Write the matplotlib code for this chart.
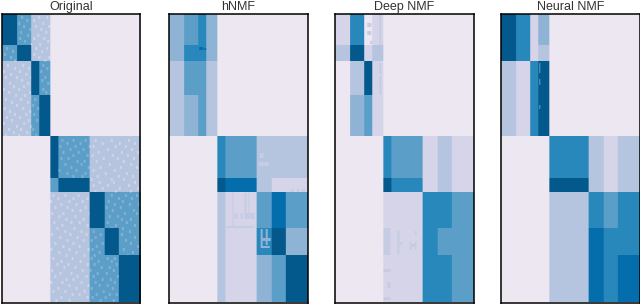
import numpy as np
import matplotlib
matplotlib.use('Agg')
import matplotlib.pyplot as plt

plt.rcParams['font.family'] = ['Liberation Sans', 'DejaVu Sans']

# block levels, on the PuBu scale
B, L, P, M, S, T, U, D = 0.12, 0.23, 0.33, 0.43, 0.55, 0.66, 0.76, 0.875
FAINT = 0.28

row_edges = [0, 32, 48, 82, 123, 165, 179, 215, 242, 289]
col_edges = [0, 15, 29, 37, 48, 56, 87, 102, 116, 138]

titles = ['Original', 'hNMF', 'Deep NMF', 'Neural NMF']

original = [
    [D, S, P, P, B, B, B, B, B],
    [S, D, P, P, B, B, B, B, B],
    [P, P, D, S, B, B, B, B, B],
    [P, P, S, D, B, B, B, B, B],
    [B, B, B, B, D, S, P, P, P],
    [B, B, B, B, S, D, P, P, P],
    [B, B, B, B, P, P, D, S, S],
    [B, B, B, B, P, P, S, D, S],
    [B, B, B, B, P, P, S, S, D],
]
hnmf = [
    [M, S, T, M, B, B, B, B, B],
    [M, T, T, M, B, B, B, B, B],
    [P, S, S, P, B, B, B, B, B],
    [P, M, S, P, B, B, B, B, B],
    [B, B, B, B, T, S, P, P, P],
    [B, B, B, B, D, U, P, L, L],
    [B, B, B, B, P, L, S, U, S],
    [B, B, B, B, P, L, T, D, M],
    [B, B, B, B, P, L, M, S, D],
]
deep_nmf = [
    [L, T, B, L, B, B, B, B, B],
    [P, D, L, P, B, B, B, B, B],
    [B, P, D, L, B, B, B, B, B],
    [B, M, S, L, B, B, B, B, B],
    [B, B, B, B, T, S, L, P, L],
    [B, B, B, B, D, T, L, P, L],
    [B, B, B, B, L, L, T, T, S],
    [B, B, B, B, L, L, T, S, S],
    [B, B, B, B, L, L, T, T, S],
]
neural_nmf = [
    [D, T, L, M, B, B, B, B, B],
    [D, T, L, P, B, B, B, B, B],
    [P, L, T, D, B, B, B, B, B],
    [P, L, T, D, B, B, B, B, B],
    [B, B, B, B, T, T, P, L, P],
    [B, B, B, B, D, D, P, L, P],
    [B, B, B, B, P, P, T, S, T],
    [B, B, B, B, P, P, U, T, T],
    [B, B, B, B, P, P, U, T, U],
]

# light cells in the original matrix: row, then columns
orig_specks = [
    (3, [19, 36, 44]), (6, [24, 31]), (9, [16, 40]), (12, [21, 33, 46]),
    (15, [27, 38]), (18, [18, 43]), (21, [25, 35]), (24, [17, 31, 41]),
    (27, [22, 45]), (30, [28, 37]), (34, [4, 33, 44]), (37, [10, 39]),
    (40, [2, 31]), (43, [8, 36, 46]), (46, [12, 42]), (51, [5, 20, 40]),
    (54, [12, 26, 44]), (57, [1, 17, 38]), (60, [8, 23]), (63, [3, 14, 28, 42]),
    (66, [19, 39]), (69, [7, 25, 45]), (72, [11, 21]), (75, [1, 16, 40]),
    (78, [6, 27, 43]), (81, [13, 22]), (85, [3, 18, 32]), (88, [9, 25]),
    (91, [14, 30]), (94, [2, 20, 35]), (97, [7, 27]), (100, [12, 23, 31]),
    (103, [4, 17]), (106, [9, 26, 34]), (109, [1, 21]), (112, [14, 28]),
    (115, [6, 18, 30]), (118, [11, 24]), (121, [3, 16, 33]),
    (126, [59, 70, 82, 92, 108, 125]), (129, [64, 77, 99, 116, 131]),
    (132, [57, 72, 86, 90, 112, 122]), (135, [67, 80, 104, 128]),
    (138, [60, 75, 95, 118, 134]), (141, [70, 84, 89, 109, 124]),
    (144, [58, 65, 100, 114, 130]), (147, [74, 81, 93, 120]),
    (150, [62, 78, 106, 127]), (153, [68, 85, 97, 117, 133]),
    (156, [56, 73, 90, 111]), (159, [64, 82, 102, 123]),
    (162, [70, 79, 94, 115, 129]), (165, [88, 108, 120]),
    (168, [96, 110, 131]), (171, [90, 104, 125]), (174, [99, 116, 134]),
    (177, [92, 112, 127]), (181, [50, 62, 75, 108, 122, 133]),
    (184, [55, 70, 84, 115, 128]), (187, [48, 66, 79, 105, 119]),
    (190, [58, 73, 111, 126, 135]), (193, [52, 64, 82, 103, 117]),
    (196, [69, 77, 109, 130]), (199, [49, 60, 86, 121, 133]),
    (202, [56, 72, 106, 114]), (205, [63, 80, 118, 127]),
    (208, [51, 68, 76, 104, 123]), (211, [59, 84, 112, 131]),
    (214, [54, 71, 108, 119]), (217, [62, 78, 90, 126]),
    (220, [49, 67, 83, 97, 118]), (223, [57, 74, 92, 131]),
    (226, [64, 80, 88, 122]), (229, [52, 70, 99, 127]),
    (232, [60, 76, 93, 134]), (235, [48, 66, 85, 89, 120]),
    (238, [56, 73, 96, 129]), (241, [63, 81, 91, 124]),
    (244, [50, 69, 88, 104, 111]), (247, [58, 77, 95, 108]),
    (250, [54, 65, 84, 91, 113]), (253, [61, 72, 98, 106]),
    (256, [49, 79, 87, 110]), (259, [57, 68, 94, 103]),
    (262, [52, 74, 83, 90, 114]), (265, [63, 70, 99, 107]),
    (268, [48, 59, 78, 92, 111]), (271, [66, 85, 96, 104]),
    (274, [55, 73, 88, 109]), (277, [50, 62, 81, 100]),
    (280, [69, 76, 93, 106, 113]), (283, [58, 84, 89, 102]),
    (286, [53, 66, 97, 110]),
]

# odd small patches in the factorised matrices: row from, row to, col from, col to, level
hnmf_patches = [
    (34, 37, 30, 34, U), (35, 37, 35, 37, U),
    (140, 145, 90, 94, FAINT), (149, 153, 89, 99, FAINT),
    (176, 179, 121, 124, FAINT), (176, 179, 127, 129, FAINT), (176, 179, 132, 135, FAINT),
    (180, 215, 63, 64, FAINT), (180, 200, 75, 77, FAINT), (180, 205, 79, 80, FAINT),
    (200, 206, 65, 68, FAINT), (200, 206, 71, 73, FAINT), (200, 206, 75, 85, FAINT),
    (213, 215, 57, 85, FAINT), (216, 235, 91, 93, M), (216, 232, 96, 98, M),
    (225, 228, 91, 101, M), (233, 235, 93, 100, M),
]
deep_patches = [
    (10, 14, 32, 36, FAINT), (18, 22, 32, 36, FAINT), (28, 31, 35, 37, FAINT),
    (0, 32, 44, 46, FAINT), (50, 61, 44, 46, FAINT), (63, 82, 44, 46, FAINT),
    (215, 242, 48, 55, FAINT), (218, 241, 62, 64, FAINT), (229, 232, 65, 67, FAINT),
    (229, 237, 74, 76, FAINT), (229, 237, 79, 81, FAINT), (231, 234, 74, 81, FAINT),
    (218, 222, 79, 81, FAINT), (256, 259, 48, 55, FAINT), (269, 275, 52, 55, FAINT),
    (284, 287, 48, 55, FAINT),
]
neural_patches = [
    (50, 60, 38, 39, S), (66, 72, 38, 39, S), (92, 96, 38, 39, S),
]


def block_matrix(grid):
    return np.repeat(np.repeat(np.array(grid), np.diff(row_edges), axis=0),
                     np.diff(col_edges), axis=1)


def add_specks(mat, specks):
    for row, cols in specks:
        for col in cols:
            cell = mat[row:row + 3, col:col + 2]
            cell[(cell > 0.2) & (cell < 0.8)] -= 0.09


def add_patches(mat, patches):
    for r0, r1, c0, c1, level in patches:
        mat[r0:r1, c0:c1] = level


orig_mat = block_matrix(original)
add_specks(orig_mat, orig_specks)
hnmf_mat = block_matrix(hnmf)
add_patches(hnmf_mat, hnmf_patches)
deep_mat = block_matrix(deep_nmf)
add_patches(deep_mat, deep_patches)
neural_mat = block_matrix(neural_nmf)
add_patches(neural_mat, neural_patches)

matrices = [orig_mat, hnmf_mat, deep_mat, neural_mat]
lefts = [1.5, 169, 335, 501]

fig = plt.figure(figsize=(6.4, 3.04), dpi=100)
for mat, title, left in zip(matrices, titles, lefts):
    ax = fig.add_axes([left / 640, 1.5 / 304, 138.5 / 640, 289 / 304])
    ax.imshow(mat, cmap='PuBu', vmin=0, vmax=1, aspect='auto', interpolation='bilinear')
    ax.set_xticks([])
    ax.set_yticks([])
    for spine in ax.spines.values():
        spine.set_linewidth(1.1)
    ax.set_title(title, fontsize=9, color='#333333', pad=2.5)

fig.savefig('out.png', dpi=100)
